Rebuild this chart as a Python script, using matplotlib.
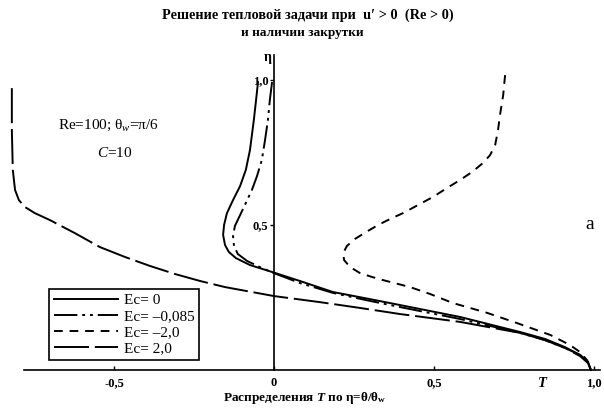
"""
Temperature profiles T(eta) for several Eckert numbers (scanned figure recreation).
"""

import matplotlib.pyplot as plt

# --- data ----------------------------------------------------------------
# Ec = 0 (solid)
eta_ec0 = [0.993, 0.931, 0.862, 0.759, 0.690, 0.634, 0.586, 0.541, 0.500,
           0.466, 0.431, 0.407, 0.386, 0.362, 0.338, 0.307, 0.269, 0.247,
           0.224, 0.183, 0.131, 0.107, 0.079, 0.052, 0.028, 0.0]
t_ec0 = [-0.050, -0.056, -0.063, -0.075, -0.088, -0.106, -0.128, -0.147,
         -0.156, -0.159, -0.153, -0.141, -0.119, -0.075, -0.006, 0.081,
         0.184, 0.288, 0.394, 0.581, 0.769, 0.847, 0.909, 0.956, 0.981,
         0.990]

# Ec = -0.085 (dash-dot-dot)
eta_ec1 = [0.993, 0.931, 0.862, 0.793, 0.724, 0.669, 0.621, 0.576, 0.534,
           0.497, 0.462, 0.428, 0.400, 0.376, 0.355, 0.334, 0.300, 0.266,
           0.241, 0.217, 0.176, 0.128, 0.103, 0.076, 0.052, 0.028, 0.0]
t_ec1 = [-0.006, -0.013, -0.019, -0.028, -0.038, -0.053, -0.069, -0.088,
         -0.106, -0.122, -0.128, -0.125, -0.113, -0.084, -0.044, 0.000,
         0.081, 0.184, 0.288, 0.394, 0.581, 0.769, 0.847, 0.909, 0.956,
         0.981, 0.990]

# Ec = -2.0 (short dashes)
eta_ecm2 = [1.017, 0.948, 0.879, 0.828, 0.776, 0.741, 0.714, 0.683, 0.655,
            0.628, 0.597, 0.569, 0.541, 0.521, 0.500, 0.476, 0.452, 0.428,
            0.403, 0.379, 0.355, 0.334, 0.321, 0.310, 0.286, 0.262, 0.231,
            0.197, 0.162, 0.121, 0.086, 0.062, 0.034, 0.0]
t_ecm2 = [0.722, 0.716, 0.706, 0.700, 0.691, 0.675, 0.653, 0.619, 0.581,
          0.541, 0.497, 0.450, 0.403, 0.363, 0.325, 0.288, 0.253, 0.228,
          0.216, 0.219, 0.238, 0.269, 0.306, 0.341, 0.425, 0.488, 0.559,
          0.666, 0.759, 0.863, 0.925, 0.956, 0.978, 0.990]

# Ec = 2.0 (long dashes)
eta_ec2 = [0.972, 0.828, 0.690, 0.621, 0.586, 0.562, 0.541, 0.517, 0.472,
           0.424, 0.390, 0.359, 0.331, 0.307, 0.286, 0.272, 0.255, 0.234,
           0.214, 0.193, 0.166, 0.128, 0.103, 0.076, 0.048, 0.024, 0.0]
t_ec2 = [-0.819, -0.819, -0.816, -0.809, -0.797, -0.778, -0.747, -0.700,
         -0.622, -0.544, -0.466, -0.388, -0.309, -0.231, -0.153, -0.084,
         0.000, 0.144, 0.269, 0.394, 0.581, 0.769, 0.847, 0.909, 0.956,
         0.981, 0.990]

x_ticks = [-0.5, 0.0, 0.5, 1.0]
x_tick_labels = ["-0,5", "0", "0,5", "1,0"]
y_ticks = [0.5, 1.0]
y_tick_labels = ["0,5", "1,0"]

# --- figure --------------------------------------------------------------
SERIF = "Liberation Serif"

plt.rcParams["mathtext.fontset"] = "custom"
plt.rcParams["mathtext.rm"] = SERIF
plt.rcParams["mathtext.it"] = SERIF + ":italic"
plt.rcParams["mathtext.bf"] = SERIF + ":bold"
plt.rcParams["mathtext.bfit"] = SERIF + ":italic:bold"

fig = plt.figure(figsize=(6.04, 4.08), dpi=100)
ax = fig.add_axes([0, 0, 1, 1])
ax.set_xlim(-0.856, 1.031)
ax.set_ylim(-0.131, 1.276)

lw = 1.4
ax.plot(t_ec0, eta_ec0, color="black", lw=lw, label="Ec= 0")
ax.plot(t_ec1, eta_ec1, color="black", lw=lw,
        linestyle=(0, (12, 2.5, 1.5, 2.5, 1.5, 2.5)), label="Ec= \u20130,085")
ax.plot(t_ecm2, eta_ecm2, color="black", lw=lw,
        linestyle=(0, (4.5, 3.5)), label="Ec= \u20132,0")
ax.plot(t_ec2, eta_ec2, color="black", lw=lw,
        linestyle=(0, (18, 3)), label="Ec= 2,0")

# axes through the origin
for side in ("top", "right"):
    ax.spines[side].set_visible(False)
ax.spines["left"].set_position(("data", 0))
ax.spines["bottom"].set_position(("data", 0))
ax.spines["left"].set_bounds(0, 1.086)
ax.spines["bottom"].set_bounds(-0.78, 1.02)
ax.spines["left"].set_linewidth(1.2)
ax.spines["bottom"].set_linewidth(1.2)

ax.set_xticks(x_ticks)
ax.set_xticklabels(x_tick_labels)
ax.set_yticks(y_ticks)
ax.set_yticklabels(y_tick_labels)
ax.tick_params(axis="x", direction="in", length=3, width=1, pad=5)
ax.tick_params(axis="y", direction="out", length=3, width=1, pad=1)
for lab in ax.get_xticklabels() + ax.get_yticklabels():
    lab.set_fontfamily(SERIF)
    lab.set_fontweight("bold")
    lab.set_fontsize(9)

ax.text(-0.02, 1.076, "\u03b7", family=SERIF, fontsize=10, fontweight="bold",
        ha="center", va="center")
ax.text(0.84, -0.025, "T", family=SERIF, fontsize=10.5, style="italic",
        fontweight="bold", ha="center", va="top")

# titles
fig.text(0.51, 0.962, "Решение тепловой задачи при  u\u2032 > 0  (Re > 0)",
         family=SERIF, fontsize=10.3, fontweight="bold", ha="center",
         va="center")
fig.text(0.50, 0.918, "и наличии закрутки", family=SERIF, fontsize=9.5,
         fontweight="bold", ha="center", va="center")
fig.text(0.505, 0.025, r"Распределения $\mathbfit{T}$ по η=θ/θ$_\mathbf{w}$",
         family=SERIF, fontsize=9.5, fontweight="bold", ha="center",
         va="center")

# annotations
fig.text(0.18, 0.693, "Re=100; θ$_w$=π/6", family=SERIF, fontsize=11,
         ha="center", va="center")
fig.text(0.19, 0.625, r"$C$=10", family=SERIF, fontsize=11,
         ha="center", va="center")
fig.text(0.977, 0.45, "a", family=SERIF, fontsize=14, ha="center",
         va="center")

leg = ax.legend(loc="lower left", bbox_to_anchor=(0.081, 0.118),
                bbox_transform=fig.transFigure, frameon=True, fancybox=False,
                edgecolor="black", framealpha=1, handlelength=4.2,
                handletextpad=0.4, labelspacing=0.15, borderpad=0.3,
                borderaxespad=0,
                prop={"family": SERIF, "size": 11})
leg.get_frame().set_linewidth(1.2)

fig.savefig("out.png", dpi=100)
